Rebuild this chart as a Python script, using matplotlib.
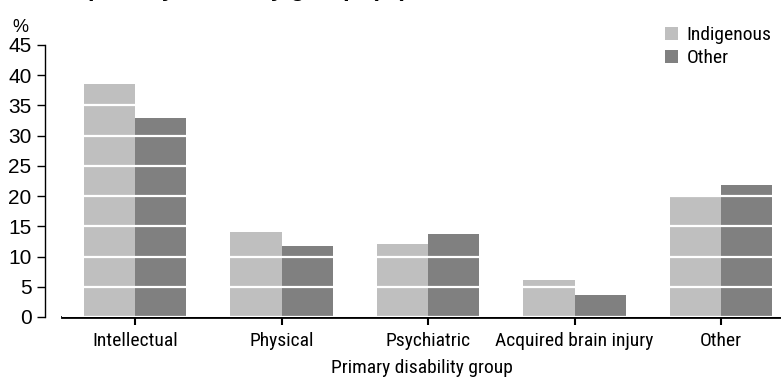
import matplotlib.pyplot as plt
import numpy as np

# Dados
categorias = ['Intellectual', 'Physical', 'Psychiatric', 'Acquired brain injury', 'Other']
indigenous = [38.5, 14.0, 12.0, 6.1, 19.8]
other = [33.0, 11.7, 13.8, 3.7, 21.9]
yticks = [0, 5, 10, 15, 20, 25, 30, 35, 40, 45]

narrow = ['Roboto Condensed', 'Liberation Sans', 'DejaVu Sans']
arial = ['Liberation Sans', 'DejaVu Sans']
plt.rcParams['font.family'] = narrow

W, H = 781, 379
fig = plt.figure(figsize=(W / 100, H / 100), dpi=100)
ax = fig.add_axes([62 / W, (H - 317) / H, (W - 62) / W, (317 - 45) / H])

x = np.arange(len(categorias))
largura = 0.35
ax.bar(x - largura / 2, indigenous, largura, color='#bfbfbf', label='Indigenous', zorder=1)
ax.bar(x + largura / 2, other, largura, color='#808080', label='Other', zorder=1)

ax.set_xlim(-0.5, 4.41)
ax.set_ylim(0, 45)
ax.set_yticks(yticks)
ax.set_xticks(x)
ax.set_xticklabels(categorias)

# grade branca por cima das barras
ax.yaxis.grid(True, color='white', lw=1.6, zorder=2)
ax.set_axisbelow(False)

for s in ['top', 'right']:
    ax.spines[s].set_visible(False)
ax.spines['left'].set_position(('outward', 12))
ax.spines['left'].set_linewidth(1.0)
ax.spines['bottom'].set_linewidth(2.0)
ax.tick_params(axis='y', length=6, width=1.0, pad=4, labelsize=15, labelfontfamily=arial)
ax.tick_params(axis='x', length=6, width=1.5, pad=5, labelsize=14)

ax.set_xlabel('Primary disability group', fontsize=14, labelpad=6)
fig.text(20 / W, 1 - 27 / H, '%', fontsize=13, ha='center', va='center', family=arial)

# título cortado no topo
fig.text(88 / W, 1 + 4 / H, 'primary disability group, (%)', fontsize=17,
         ha='left', va='baseline', fontweight='bold', family=arial)

ax.legend(loc='upper left', bbox_to_anchor=(665 / W, 1 - 26 / H), bbox_transform=fig.transFigure,
          frameon=False, fontsize=14, handlelength=0.65, handleheight=0.65,
          handletextpad=0.45, labelspacing=0.28, borderpad=0, borderaxespad=0)

fig.savefig('out.png', dpi=100)
